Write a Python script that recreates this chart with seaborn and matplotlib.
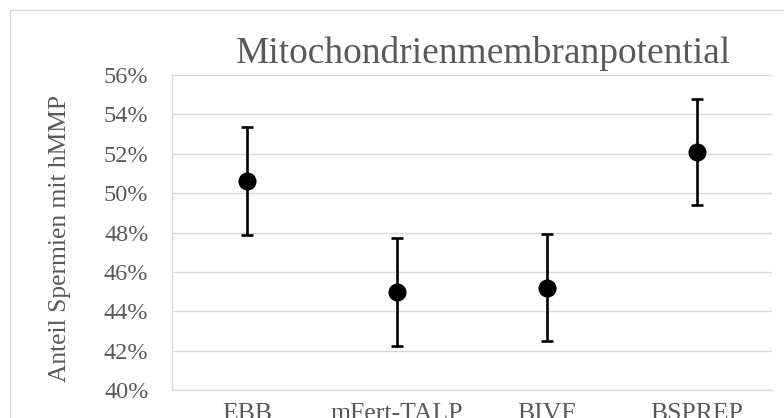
import numpy as np
import pandas as pd
import matplotlib
matplotlib.use("Agg")
import matplotlib.pyplot as plt
from matplotlib.ticker import PercentFormatter, MultipleLocator
from matplotlib.patches import Rectangle
import seaborn as sns

# ---- data ----
categories = ["EBB", "mFert-TALP", "BIVF", "BSPREP"]
means = [0.506, 0.450, 0.452, 0.521]
errors = [0.0274, 0.0274, 0.0270, 0.0268]
title = "Mitochondrienmembranpotential"
ylabel = "Anteil Spermien mit hMMP"

sns.set_theme(style="white")
plt.rcParams["font.family"] = ["Liberation Serif", "DejaVu Serif"]

TXT = "#595959"
GRID = "#D9D9D9"

fig = plt.figure(figsize=(7.84, 4.18), dpi=100)
fig.patch.set_facecolor("white")

# outer chart border (cropped chart area)
fig.patches.append(Rectangle((10 / 784, -0.5), 1.5, 1.5 - 10 / 418,
                             transform=fig.transFigure, fill=False,
                             edgecolor=GRID, linewidth=1.0))

ax = fig.add_axes([172 / 784, 1 - 390 / 418, 600 / 784, 315 / 418])

df = pd.DataFrame({"cat": categories, "val": means})
sns.pointplot(data=df, x="cat", y="val", order=categories, linestyle="none",
              color="black", markers="o", markersize=11, errorbar=None, ax=ax,
              zorder=5)
ax.errorbar(np.arange(len(categories)), means, yerr=errors, fmt="none",
            ecolor="black", elinewidth=1.9, capsize=4.4, capthick=1.9, zorder=4)

ax.set_xlim(-0.5, len(categories) - 0.5)
ax.set_ylim(0.40, 0.56)
ax.yaxis.set_major_locator(MultipleLocator(0.02))
ax.yaxis.set_major_formatter(PercentFormatter(1.0, decimals=0))
ax.grid(axis="y", color=GRID, linewidth=1.0)
ax.set_axisbelow(True)
for s in ["top", "right"]:
    ax.spines[s].set_visible(False)
for s in ["left", "bottom"]:
    ax.spines[s].set_color(GRID)
    ax.spines[s].set_linewidth(1.0)
ax.set_xlabel("")
ax.set_ylabel("")
ax.tick_params(axis="y", length=0, pad=17, labelsize=17.5, labelcolor=TXT)
ax.tick_params(axis="x", length=0, pad=9.5, labelsize=18.5, labelcolor=TXT)

fig.text(483.5 / 784, 1 - 63 / 418, title, ha="center", va="baseline",
         fontsize=27, color=TXT)
fig.text(60 / 784, 1 - 239 / 418, ylabel, ha="center", va="center",
         rotation=90, fontsize=18.4, color=TXT)

fig.savefig("out.png", dpi=100, facecolor="white")
